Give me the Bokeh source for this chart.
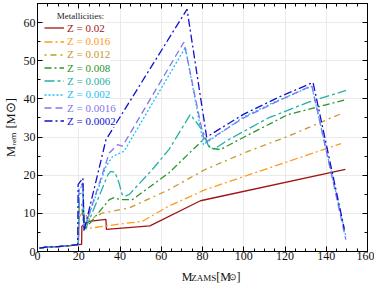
from bokeh.plotting import figure
from bokeh.layouts import column
from bokeh.models import (Range1d, LinearAxis, SingleIntervalTicker, Legend,
                          LegendItem, Label, CustomJSTickFormatter)
from bokeh.embed import file_html
from bokeh.resources import INLINE

# ---- data ----
labels = ["Z = 0.02", "Z = 0.016", "Z = 0.012", "Z = 0.008",
          "Z = 0.006", "Z = 0.002", "Z = 0.0016", "Z = 0.0002"]

x_z0200 = [1, 5, 10, 15, 20, 21.4, 21.5, 25, 33.2, 33.4, 54.5, 79, 149.3]
y_z0200 = [0.9, 1.2, 1.3, 1.5, 1.8, 1.9, 6.6, 7.9, 8.4, 5.8, 6.7, 13.3, 21.5]

x_z0160 = [1, 5, 10, 15, 19.8, 20.2, 21.5, 22.5, 23.5, 26.7, 40, 50.8, 63.7, 81.3, 147.2]
y_z0160 = [0.9, 1.2, 1.3, 1.5, 1.8, 9, 10, 8.5, 6, 6.2, 7.2, 7.9, 11.9, 16.2, 28.3]

x_z0120 = [1, 5, 10, 15, 19.8, 20.3, 22, 23.5, 25.2, 31.6, 44.4, 63.7, 81.3, 102.3, 121.5, 148]
y_z0120 = [0.9, 1.2, 1.3, 1.5, 1.8, 11.5, 10.5, 9.5, 8.4, 10.1, 11.4, 16.2, 21.5, 26.3, 30.2, 36.3]

x_z0080 = [1, 5, 10, 15, 19.8, 20.2, 21.5, 22.5, 34.8, 37.2, 40.4, 46, 63.7, 81.3, 83.8, 88.6, 102.3, 121.5, 149.6]
y_z0080 = [0.9, 1.2, 1.3, 1.5, 1.8, 13, 12.5, 5.5, 13.6, 14.1, 13.6, 13.6, 20.6, 29.8, 27.1, 26.7, 30.6, 35.9, 39.8]

x_z0060 = [1, 5, 10, 15, 19.8, 20.2, 22, 23, 34.2, 35.5, 37.5, 39.5, 41, 42, 44.4, 55.7, 63.7, 74.1, 79.8, 83, 85.5, 92.6, 111.9, 131.2, 149.6]
y_z0060 = [0.9, 1.2, 1.3, 1.5, 1.8, 15, 15.5, 5.5, 20.2, 21, 20.8, 18, 15, 14.5, 14.9, 21.5, 26.7, 35.9, 31.9, 27.5, 26.8, 29.3, 35, 39.1, 42.2]

x_z0020 = [1, 5, 10, 15, 19.8, 20.1, 22, 22.4, 33.2, 36.4, 42, 71.7, 80.5, 100, 115, 133, 149.5]
y_z0020 = [0.9, 1.2, 1.3, 1.5, 1.8, 16, 17.5, 5.5, 22.3, 24.9, 26.3, 53.5, 28, 35.3, 39.2, 43.3, 4]

x_z0016 = [1, 5, 10, 15, 19.8, 20.1, 22, 22.4, 34.8, 38.8, 41.2, 71, 81, 100, 115, 133, 149.5]
y_z0016 = [0.9, 1.2, 1.3, 1.5, 1.8, 16.5, 18, 5.5, 25.8, 28, 27.6, 54.9, 28.5, 35, 39, 43.5, 3.1]

x_z0002 = [1, 5, 10, 15, 19.5, 19.7, 22, 22.6, 33.2, 72.5, 82, 100, 118, 133.6, 148.8]
y_z0002 = [0.9, 1.2, 1.3, 1.5, 1.8, 17.5, 19.3, 5.5, 29.3, 63.5, 30, 36, 40.7, 44.3, 5.8]

xs = [x_z0200, x_z0160, x_z0120, x_z0080, x_z0060, x_z0020, x_z0016, x_z0002]
ys = [y_z0200, y_z0160, y_z0120, y_z0080, y_z0060, y_z0020, y_z0016, y_z0002]

colors = ["#a11414", "#ff9a1c", "#c8962a", "#2a962a",
          "#22b2a6", "#18c0f8", "#8474ee", "#1010d0"]
dashes = ["solid", "8 3 2 3", "2 4 6 4", "7 3 2 3",
          "10 3 3 3", "2 2", "7 4", "8 3 2 3"]

FONT = "Liberation Serif"
TXT = "#111111"

# ---- main plot ----
p = figure(width=374, height=265, output_backend="svg", toolbar_location=None,
           x_range=Range1d(0, 160), y_range=Range1d(0, 65),
           min_border_left=34, min_border_right=7, min_border_top=3,
           min_border_bottom=14)
p.outline_line_color = "black"
p.outline_line_width = 1

xt = SingleIntervalTicker(interval=20, num_minor_ticks=4)
yt = SingleIntervalTicker(interval=10, num_minor_ticks=2)
p.xaxis.ticker = xt
p.yaxis.ticker = yt
p.xgrid.ticker = xt
p.ygrid.ticker = yt
p.grid.grid_line_color = "#e4e4e4"
p.grid.grid_line_width = 0.8

for ax in [p.xaxis[0], p.yaxis[0]]:
    ax.major_tick_in = 5
    ax.major_tick_out = 0
    ax.minor_tick_in = 3
    ax.minor_tick_out = 0
    ax.major_label_text_font = FONT
    ax.major_label_text_font_size = "12px"
    ax.major_label_text_color = TXT
    ax.axis_line_color = "black"
p.xaxis.major_label_standoff = 0
p.yaxis.major_label_standoff = 2

# y title: M with subscript "rem" via Unicode subscript letters
p.yaxis.axis_label = "M\u1d63\u2091\u2098 [M\u2299]"
p.yaxis.axis_label_text_font = FONT
p.yaxis.axis_label_text_font_size = "12.5px"
p.yaxis.axis_label_text_font_style = "normal"
p.yaxis.axis_label_text_color = TXT
p.yaxis.axis_label_standoff = 3

blank = CustomJSTickFormatter(code="return ''")
top = LinearAxis(ticker=xt, formatter=blank, major_tick_in=5, major_tick_out=0,
                 minor_tick_in=3, minor_tick_out=0, major_label_standoff=0,
                 major_label_text_font_size="1px")
right = LinearAxis(ticker=yt, formatter=blank, major_tick_in=5, major_tick_out=0,
                   minor_tick_in=3, minor_tick_out=0, major_label_standoff=0,
                   major_label_text_font_size="1px")
p.add_layout(top, "above")
p.add_layout(right, "right")

renderers = []
for x, y, c, d in zip(xs, ys, colors, dashes):
    r = p.line(x, y, line_color=c, line_width=1.3, line_dash=d)
    renderers.append(r)

# legend: one entry per Legend so each label gets its line colour
row0 = 216.8
for i, (lab, r, c) in enumerate(zip(labels, renderers, colors)):
    leg = Legend(items=[LegendItem(label=lab, renderers=[r])],
                 location=(7, row0 - 13.3 * i),
                 padding=1, spacing=0, margin=0, label_standoff=3,
                 glyph_width=20, glyph_height=13, label_height=13,
                 label_text_font=FONT, label_text_font_size="11px",
                 label_text_color=c, border_line_color=None,
                 background_fill_color="white", background_fill_alpha=1)
    p.add_layout(leg)

p.add_layout(Label(x=0, y=0, x_offset=43, y_offset=236, text="Metallicities:",
                   text_font=FONT, text_font_size="9px", text_color="#222222",
                   text_align="center", text_baseline="middle",
                   background_fill_color="white"))

# ---- x-axis title strip (below the plot): M with subscript ZAMS ----
xf = figure(width=374, height=18, output_backend="svg", toolbar_location=None,
            x_range=Range1d(0, 374), y_range=Range1d(0, 18),
            x_axis_location=None, y_axis_location=None, min_border=0)
xf.outline_line_color = None
xf.grid.visible = False


def piece(text, x, y, size):
    xf.add_layout(Label(x=x, y=y, text=text, text_font=FONT, text_font_size=size,
                        text_color=TXT, text_align="left",
                        text_baseline="alphabetic"))


piece("M", 163.5, 7, "12px")
piece("ZAMS", 174.2, 5.5, "9px")
piece("[M", 202.5, 7, "12px")
piece("\u2299", 217.5, 6.5, "8.5px")
piece("]", 225.5, 7, "12px")

layout = column(p, xf, spacing=0)
open("out.html", "w").write(file_html(layout, INLINE))
